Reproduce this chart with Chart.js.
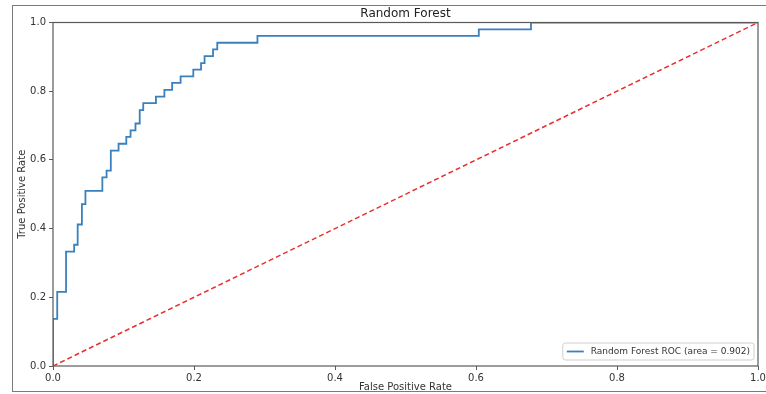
<!DOCTYPE html>
<html>
<head>
<meta charset="utf-8">
<script src="https://cdn.jsdelivr.net/npm/chart.js@4"></script>
<style>
  html, body { margin: 0; padding: 0; background: #fff; }
  #wrap { position: relative; width: 766px; height: 394px; overflow: hidden; }
  #frame { position: absolute; left: 12px; top: 5px; width: 800px; height: 387px; border: 1.5px solid #7a7a7a; box-sizing: border-box; }
  canvas { position: absolute; left: 0; top: 0; }
</style>
</head>
<body>
<div id="wrap">
  <div id="frame"></div>
  <canvas id="c" width="766" height="394"></canvas>
</div>
<script>
// ROC curve points
const fpr = [0, 0, 0.006, 0.0185, 0.030, 0.035, 0.041, 0.046, 0.070, 0.076, 0.082, 0.093, 0.104, 0.110, 0.117, 0.123, 0.128, 0.146, 0.158, 0.169, 0.181, 0.199, 0.210, 0.215, 0.227, 0.233, 0.290, 0.604, 0.678, 1.0];
const tpr = [0, 0.137, 0.216, 0.333, 0.353, 0.412, 0.471, 0.510, 0.549, 0.569, 0.627, 0.647, 0.667, 0.686, 0.706, 0.745, 0.765, 0.784, 0.804, 0.824, 0.843, 0.863, 0.882, 0.902, 0.922, 0.941, 0.961, 0.980, 1.0, 1.0];
const diagX = [0, 1];
const diagY = [0, 1];
const xTicks = [0, 0.2, 0.4, 0.6, 0.8, 1.0];
const yTicks = [0, 0.2, 0.4, 0.6, 0.8, 1.0];
const titleText = 'Random Forest';
const rocLabel = 'Random Forest ROC (area = 0.902)';
const xTitle = 'False Positive Rate';
const yTitle = 'True Positive Rate';

const FONT = "'DejaVu Sans', sans-serif";
const rocColor = '#3a80bd';
const diagColor = '#e8302e';
const spineColor = '#5a5a5a';

const framePlugin = {
  id: 'framePlugin',
  afterDatasetsDraw(chart) {
    const a = chart.chartArea, ctx = chart.ctx;
    ctx.save();
    ctx.strokeStyle = spineColor;
    ctx.lineWidth = 1.2;
    ctx.strokeRect(a.left, a.top, a.right - a.left, a.bottom - a.top);
    // title
    ctx.fillStyle = '#222';
    ctx.font = '12px ' + FONT;
    ctx.textAlign = 'center';
    ctx.textBaseline = 'middle';
    ctx.fillText(titleText, (a.left + a.right) / 2, 13.5);
    // legend (lower right, inside axes)
    ctx.font = '9px ' + FONT;
    const tw = ctx.measureText(rocLabel).width;
    const bw = tw + 32, bh = 17;
    const bx = a.right - 4 - bw, by = a.bottom - 6 - bh;
    ctx.fillStyle = 'rgba(255,255,255,0.85)';
    ctx.strokeStyle = '#cfcfcf';
    ctx.lineWidth = 1;
    ctx.beginPath();
    ctx.roundRect(bx, by, bw, bh, 2.5);
    ctx.fill();
    ctx.stroke();
    ctx.strokeStyle = rocColor;
    ctx.lineWidth = 1.8;
    ctx.beginPath();
    ctx.moveTo(bx + 4, by + bh / 2);
    ctx.lineTo(bx + 21, by + bh / 2);
    ctx.stroke();
    ctx.fillStyle = '#333';
    ctx.textAlign = 'left';
    ctx.fillText(rocLabel, bx + 28, by + bh / 2 + 0.5);
    ctx.restore();
  }
};

new Chart(document.getElementById('c'), {
  type: 'scatter',
  data: {
    datasets: [
      {
        label: rocLabel,
        data: fpr.map((x, i) => ({ x: x, y: tpr[i] })),
        showLine: true,
        stepped: 'before',
        borderColor: rocColor,
        borderWidth: 1.8,
        pointRadius: 0,
        fill: false
      },
      {
        label: 'diagonal',
        data: diagX.map((x, i) => ({ x: x, y: diagY[i] })),
        showLine: true,
        borderColor: diagColor,
        borderWidth: 1.5,
        borderDash: [5, 3],
        pointRadius: 0,
        fill: false
      }
    ]
  },
  options: {
    responsive: false,
    animation: false,
    layout: { padding: { top: 22.5, right: 0, left: 0, bottom: 0 } },
    plugins: { legend: { display: false }, title: { display: false }, tooltip: { enabled: false } },
    scales: {
      x: {
        type: 'linear', min: 0, max: 1,
        afterFit(s) { s.height = 28; s.paddingRight = 8; },
        afterBuildTicks(s) { s.ticks = xTicks.map(v => ({ value: v })); },
        ticks: { font: { family: FONT, size: 10 }, color: '#333', padding: 2, maxRotation: 0, callback: v => v.toFixed(1) },
        grid: { drawOnChartArea: false, drawTicks: true, tickLength: 4, color: spineColor },
        border: { display: false },
        title: { display: true, text: xTitle, font: { family: FONT, size: 10 }, color: '#333', padding: { top: 0, bottom: 1 } }
      },
      y: {
        type: 'linear', min: 0, max: 1,
        afterFit(s) { s.width = 53; },
        afterBuildTicks(s) { s.ticks = yTicks.map(v => ({ value: v })); },
        ticks: { font: { family: FONT, size: 10 }, color: '#333', padding: 3, callback: v => v.toFixed(1) },
        grid: { drawOnChartArea: false, drawTicks: true, tickLength: 4, color: spineColor },
        border: { display: false },
        title: { display: true, text: yTitle, font: { family: FONT, size: 10 }, color: '#333', padding: { top: 16, bottom: 0 } }
      }
    }
  },
  plugins: [framePlugin]
});
</script>
</body>
</html>
